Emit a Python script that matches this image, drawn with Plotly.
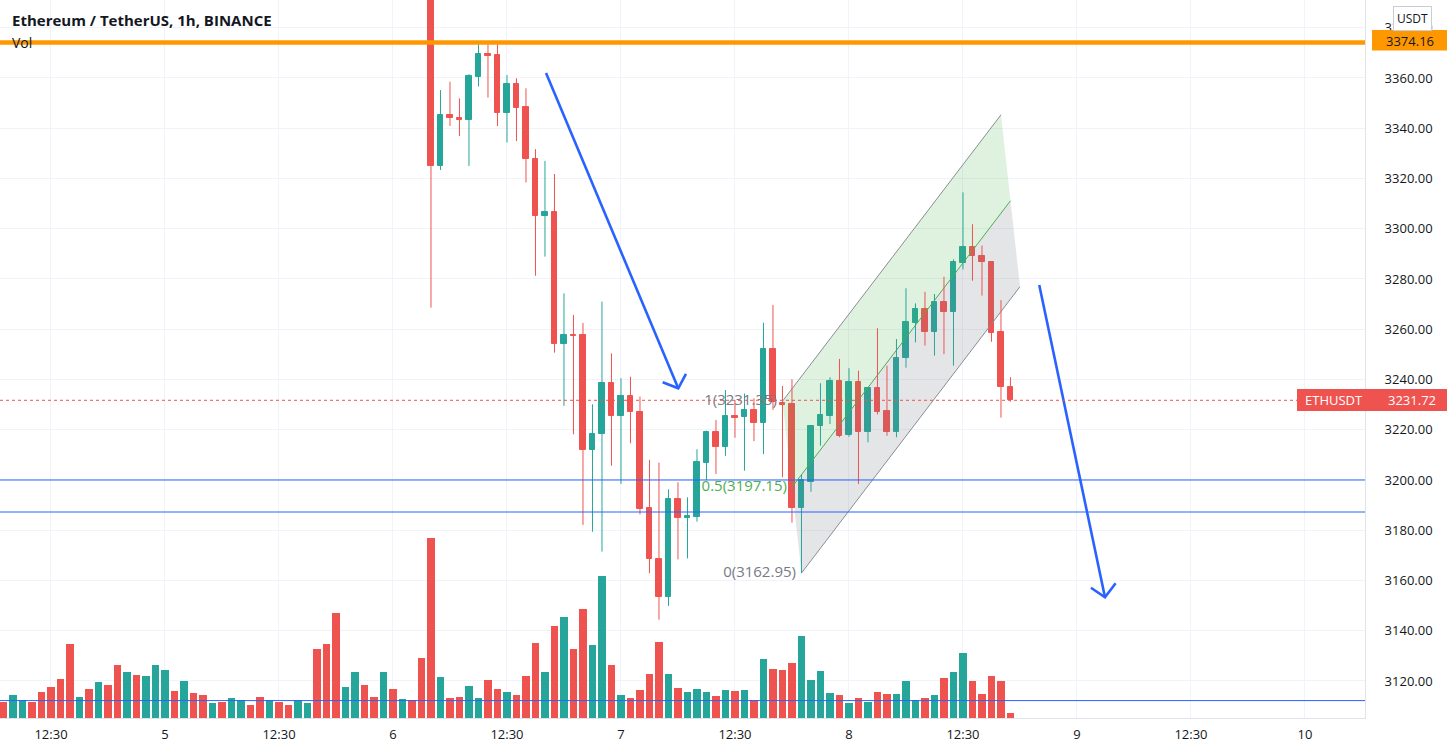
import pandas as pd
import plotly.graph_objects as go

# ---------------- data ----------------
start = pd.Timestamp("2022-01-04 07:00")
times = pd.date_range(start, periods=107, freq="h")

opens = [3790, 3780, 3796, 3805, 3794, 3776, 3760, 3738, 3712, 3728,
         3716, 3740, 3728, 3702, 3732, 3718, 3741, 3772, 3791, 3781,
         3806, 3795, 3786, 3793, 3788, 3798, 3806, 3799, 3787, 3796,
         3790, 3783, 3794, 3800, 3712, 3640, 3552, 3578, 3601, 3568,
         3556, 3582, 3555, 3562, 3546, 3505, 3325.1, 3345.1, 3344.1, 3343.4,
         3360.5, 3369.5, 3369.2, 3346.2, 3357.6, 3348.3, 3327.8, 3305.2, 3306.5, 3254.0,
         3257.8, 3257.7, 3211.9, 3218.2, 3238.5, 3225.6, 3233.4, 3226.9, 3188.7, 3168.4,
         3153.6, 3192.4, 3184.7, 3185.4, 3206.6, 3219.0, 3213.3, 3225.5, 3225.0, 3227.9,
         3222.8, 3252.0, 3230.8, 3230.1, 3188.7, 3199.3, 3221.5, 3225.5, 3239.4, 3217.9,
         3239.1, 3219.0, 3236.5, 3227.6, 3219.2, 3248.4, 3262.6, 3267.9, 3259.0, 3270.7,
         3267.0, 3286.5, 3292.6, 3289.3, 3286.6, 3258.8, 3236.9]
highs = [3798, 3802, 3810, 3808, 3797, 3780, 3764, 3742, 3735, 3732,
         3745, 3744, 3731, 3738, 3740, 3746, 3780, 3800, 3795, 3812,
         3810, 3798, 3797, 3796, 3802, 3810, 3808, 3802, 3800, 3799,
         3793, 3798, 3804, 3803, 3720, 3650, 3590, 3612, 3606, 3575,
         3590, 3586, 3570, 3566, 3550, 3512, 3355.2, 3358.5, 3351.9, 3361.5,
         3374.5, 3374.0, 3374.5, 3361.2, 3359.9, 3355.9, 3331.7, 3327.0, 3321.8, 3274.3,
         3265.7, 3262.5, 3230.1, 3271.0, 3250.4, 3240.5, 3241.1, 3233.2, 3208.0, 3206.9,
         3196.3, 3199.1, 3193.1, 3212.2, 3219.6, 3223.9, 3235.8, 3231.8, 3234.4, 3232.5,
         3262.6, 3269.7, 3237.4, 3240.1, 3202.0, 3221.9, 3238.5, 3240.9, 3248.2, 3244.5,
         3243.5, 3237.0, 3260.4, 3245.5, 3256.1, 3276.3, 3270.3, 3274.9, 3274.0, 3280.9,
         3287.8, 3314.5, 3301.8, 3293.3, 3287.0, 3271.6, 3240.9]
lows = [3772, 3775, 3788, 3790, 3770, 3752, 3730, 3700, 3705, 3710,
        3712, 3722, 3690, 3698, 3712, 3714, 3736, 3766, 3776, 3778,
        3788, 3780, 3782, 3784, 3785, 3794, 3795, 3782, 3784, 3786,
        3778, 3780, 3790, 3690, 3620, 3530, 3545, 3570, 3560, 3548,
        3550, 3548, 3549, 3540, 3490, 3268.6, 3323.4, 3340.9, 3336.9, 3325.0,
        3356.6, 3352.2, 3340.9, 3334.3, 3334.9, 3318.4, 3281.3, 3288.9, 3250.7, 3229.5,
        3218.2, 3182.1, 3179.4, 3171.5, 3205.7, 3198.4, 3214.6, 3186.3, 3162.9, 3144.4,
        3149.9, 3168.4, 3168.8, 3183.4, 3200.0, 3202.4, 3209.6, 3216.8, 3203.7, 3215.5,
        3210.3, 3227.9, 3201.1, 3183.0, 3162.95, 3195.3, 3213.7, 3222.3, 3217.0, 3217.2,
        3198.4, 3215.0, 3226.1, 3217.6, 3217.0, 3244.7, 3254.8, 3253.5, 3249.5, 3250.1,
        3245.5, 3283.8, 3279.3, 3273.4, 3255.0, 3224.8, 3231.2]
closes = [3780, 3796, 3805, 3794, 3776, 3760, 3738, 3712, 3728, 3716,
          3740, 3728, 3702, 3732, 3718, 3741, 3772, 3791, 3781, 3806,
          3795, 3786, 3793, 3788, 3798, 3806, 3799, 3787, 3796, 3790,
          3783, 3794, 3800, 3712, 3640, 3552, 3578, 3601, 3568, 3556,
          3582, 3555, 3562, 3546, 3505, 3325.1, 3345.3, 3343.9, 3343.4, 3360.9,
          3369.5, 3368.9, 3346.2, 3357.6, 3348.2, 3327.6, 3305.2, 3306.5, 3254.0, 3257.7,
          3257.4, 3211.9, 3218.2, 3238.5, 3225.6, 3233.4, 3226.9, 3188.5, 3168.4, 3153.6,
          3192.4, 3184.7, 3185.7, 3207.0, 3219.0, 3213.3, 3225.5, 3224.8, 3227.9, 3222.8,
          3252.0, 3231.2, 3229.9, 3188.9, 3200.0, 3221.5, 3225.9, 3239.5, 3217.6, 3239.1,
          3219.0, 3236.5, 3227.2, 3219.2, 3248.4, 3262.8, 3267.9, 3259.0, 3270.7, 3267.0,
          3286.6, 3292.6, 3289.3, 3286.6, 3258.6, 3236.9, 3231.72]
volume_k = [1.6, 2.3, 1.8, 1.6, 2.6, 3.1, 3.9, 7.4, 2.1, 2.9,
            3.6, 3.3, 5.3, 4.6, 4.3, 4.2, 5.3, 4.8, 2.7, 3.7,
            2.5, 2.3, 1.5, 1.6, 2.0, 1.8, 1.3, 2.1, 1.8, 1.6,
            1.3, 1.8, 1.5, 6.9, 7.4, 10.5, 3.1, 4.6, 3.3, 2.1,
            4.6, 2.9, 1.9, 1.8, 6.0, 18.0, 4.1, 2.0, 2.1, 3.2,
            2.0, 3.8, 2.9, 2.6, 2.3, 4.2, 7.5, 4.6, 9.2, 10.1,
            6.9, 10.9, 7.3, 14.2, 5.3, 2.3, 2.0, 2.8, 4.4, 7.6,
            4.4, 3.0, 2.6, 2.9, 2.6, 2.2, 2.8, 2.7, 2.8, 1.8,
            5.9, 4.9, 4.8, 5.5, 8.2, 3.8, 4.7, 2.5, 2.3, 1.5,
            2.0, 1.6, 2.6, 2.4, 2.4, 3.7, 1.8, 2.0, 2.3, 4.0,
            4.6, 6.5, 3.7, 2.4, 4.2, 3.7, 0.5]

# x-axis ticks
tick_times = ["2022-01-04 12:00", "2022-01-05 00:00", "2022-01-05 12:00", "2022-01-06 00:00",
              "2022-01-06 12:00", "2022-01-07 00:00", "2022-01-07 12:00", "2022-01-08 00:00",
              "2022-01-08 12:00", "2022-01-09 00:00", "2022-01-09 12:00", "2022-01-10 00:00"]
tick_text = ["12:30", "5", "12:30", "6", "12:30", "7", "12:30", "8", "12:30", "9", "12:30", "10"]
price_ticks = [3120, 3140, 3160, 3180, 3200, 3220, 3240, 3260, 3280, 3300, 3320, 3340, 3360, 3380]

# horizontal levels
resistance = 3374.16
last_price = 3231.72
support_levels = [3200.0, 3187.26, 3112.2]

# fib channel anchors (hours from start, price)
ch_upper = [(82, 3231.35), (105, 3345.34)]
ch_mid = [(83, 3197.15), (106, 3311.14)]
ch_lower = [(84, 3162.95), (107, 3276.94)]
fib_labels = ["1(3231.35)", "0.5(3197.15)", "0(3162.95)"]

# arrows (hours from start, price): start, tip, wing1, wing2
arrow1 = [(57.11, 3361.99), (71.03, 3236.50), (69.39, 3238.89), (71.84, 3242.19)]
arrow2 = [(109.03, 3277.61), (115.95, 3153.31), (114.47, 3157.13), (117.07, 3158.89)]

GREEN = "#26a69a"
RED = "#ef5350"
BLUE = "#2962ff"
TXT = "#131722"
FONT = "Open Sans"


def T(h):
    return start + pd.Timedelta(hours=h)


HOUR_MS = 3600 * 1000
fig = go.Figure()

# ---- fib channel fills ----
fig.add_trace(go.Scatter(
    x=[T(ch_upper[0][0]), T(ch_upper[1][0]), T(ch_mid[1][0]), T(ch_mid[0][0]), T(ch_upper[0][0])],
    y=[ch_upper[0][1], ch_upper[1][1], ch_mid[1][1], ch_mid[0][1], ch_upper[0][1]],
    fill="toself", fillcolor="rgba(76,175,80,0.18)", line=dict(width=0),
    mode="lines", hoverinfo="skip", showlegend=False))
fig.add_trace(go.Scatter(
    x=[T(ch_mid[0][0]), T(ch_mid[1][0]), T(ch_lower[1][0]), T(ch_lower[0][0]), T(ch_mid[0][0])],
    y=[ch_mid[0][1], ch_mid[1][1], ch_lower[1][1], ch_lower[0][1], ch_mid[0][1]],
    fill="toself", fillcolor="rgba(120,123,134,0.2)", line=dict(width=0),
    mode="lines", hoverinfo="skip", showlegend=False))
for pts, col in [(ch_upper, "#8a8d96"), (ch_mid, "#4caf50"), (ch_lower, "#8a8d96")]:
    fig.add_trace(go.Scatter(x=[T(p[0]) for p in pts], y=[p[1] for p in pts], mode="lines",
                             line=dict(color=col, width=1), hoverinfo="skip", showlegend=False))

# fib labels (under candles)
fig.add_trace(go.Scatter(
    x=[T(ch_upper[0][0] - 0.58), T(ch_mid[0][0] - 0.53), T(ch_lower[0][0] - 0.58)],
    y=[ch_upper[0][1], ch_mid[0][1], ch_lower[0][1]],
    mode="text", text=fib_labels,
    textposition="middle left",
    textfont=dict(family=FONT, size=15, color=["#787b86", "#4caf50", "#787b86"]),
    hoverinfo="skip", showlegend=False))

# ---- candles ----
up = [c >= o for o, c in zip(opens, closes)]
for is_up, col in [(True, GREEN), (False, RED)]:
    wx, wy = [], []
    for t, h, l, u in zip(times, highs, lows, up):
        if u == is_up:
            wx += [t, t, None]
            wy += [l, h, None]
    fig.add_trace(go.Scatter(x=wx, y=wy, mode="lines", line=dict(color=col, width=1),
                             hoverinfo="skip", showlegend=False))
    idx = [i for i in range(len(times)) if up[i] == is_up]
    fig.add_trace(go.Bar(
        x=[times[i] for i in idx],
        base=[min(opens[i], closes[i]) for i in idx],
        y=[abs(closes[i] - opens[i]) for i in idx],
        width=0.62 * HOUR_MS, marker=dict(color=col, line=dict(color=col, width=1)),
        showlegend=False, hoverinfo="skip"))

# ---- arrows ----
for arr in [arrow1, arrow2]:
    s, tip, w1, w2 = arr
    fig.add_trace(go.Scatter(
        x=[T(s[0]), T(tip[0]), None, T(w1[0]), T(tip[0]), T(w2[0])],
        y=[s[1], tip[1], None, w1[1], tip[1], w2[1]],
        mode="lines", line=dict(color=BLUE, width=2.6), hoverinfo="skip", showlegend=False))

# ---- volume ----
fig.add_trace(go.Bar(x=times, y=volume_k, yaxis="y2", width=0.8 * HOUR_MS,
                     marker=dict(color=[GREEN if u else RED for u in up], line=dict(width=0)),
                     showlegend=False, hoverinfo="skip"))

# ---- shapes ----
shapes = []
shapes.append(dict(type="line", xref="paper", x0=0, x1=1, yref="y", y0=resistance, y1=resistance,
                   line=dict(color="#ff9800", width=4.5), layer="above"))
shapes.append(dict(type="line", xref="paper", x0=0, x1=1, yref="y", y0=last_price, y1=last_price,
                   line=dict(color=RED, width=1, dash="dot"), layer="above"))
for lv in support_levels:
    shapes.append(dict(type="line", xref="paper", x0=0, x1=1, yref="y", y0=lv, y1=lv,
                       line=dict(color=BLUE, width=1), layer="above"))

PW, PH = 1365.0, 718.0


def px(xp):
    return xp / PW


def py(yp):
    return 1 - yp / PH


# right side price labels
shapes.append(dict(type="rect", xref="paper", yref="paper", x0=px(1372), x1=px(1447),
                   y0=py(50.5), y1=py(30), fillcolor="#ff9800", line=dict(width=0), layer="above"))
shapes.append(dict(type="rect", xref="paper", yref="paper", x0=px(1297), x1=px(1447),
                   y0=py(411), y1=py(389), fillcolor=RED, line=dict(width=0), layer="above"))

annotations = [
    dict(text="<b>Ethereum / TetherUS, 1h, BINANCE</b>", xref="paper", yref="paper",
         x=px(10), y=py(20), xanchor="left", yanchor="middle", showarrow=False,
         font=dict(family=FONT, size=15, color=TXT)),
    dict(text="Vol", xref="paper", yref="paper", x=px(10), y=py(42), xanchor="left",
         yanchor="middle", showarrow=False, font=dict(family=FONT, size=14, color=TXT)),
    dict(text="3374.16", xref="paper", yref="paper", x=px(1409.5), y=py(40.5),
         xanchor="center", yanchor="middle", showarrow=False,
         font=dict(family=FONT, size=13, color=TXT)),
    dict(text="ETHUSDT", xref="paper", yref="paper", x=px(1303), y=py(400),
         xanchor="left", yanchor="middle", showarrow=False,
         font=dict(family=FONT, size=13, color="white")),
    dict(text="3231.72", xref="paper", yref="paper", x=px(1386), y=py(400),
         xanchor="left", yanchor="middle", showarrow=False,
         font=dict(family=FONT, size=13, color="white")),
    dict(text="USDT", xref="paper", yref="paper", x=px(1412), y=py(18.5),
         xanchor="center", yanchor="middle", showarrow=False,
         bgcolor="white", bordercolor="#c9ccd4", borderwidth=1, borderpad=3,
         font=dict(family=FONT, size=12, color=TXT)),
]

x0 = T(-0.368)
x1 = T(143.32)

fig.update_layout(
    width=1452, height=752,
    margin=dict(l=0, r=87, t=0, b=34),
    paper_bgcolor="white", plot_bgcolor="white",
    barmode="overlay", bargap=0,
    showlegend=False,
    font=dict(family=FONT, color=TXT, size=13),
    shapes=shapes, annotations=annotations,
    xaxis=dict(type="date", range=[x0, x1], tickvals=pd.to_datetime(tick_times), ticktext=tick_text,
               showgrid=True, gridcolor="#f0f3fa", gridwidth=1, zeroline=False,
               showline=True, linecolor="#e0e3eb", linewidth=1, ticks="",
               ticklabelstandoff=4,
               tickfont=dict(family=FONT, size=13, color=TXT),
               rangeslider=dict(visible=False), fixedrange=True),
    yaxis=dict(side="right", range=[3105.27, 3391.04], tickvals=price_ticks,
               ticktext=[f"{v:.2f}" for v in price_ticks],
               showgrid=True, gridcolor="#f0f3fa", gridwidth=1, zeroline=False,
               showline=True, linecolor="#e0e3eb", linewidth=1, ticks="",
               ticklabelstandoff=16,
               tickfont=dict(family=FONT, size=13, color=TXT), fixedrange=True),
    yaxis2=dict(overlaying="y", range=[0, 71.8], visible=False, showgrid=False, fixedrange=True),
)

fig.write_html("out.html")
